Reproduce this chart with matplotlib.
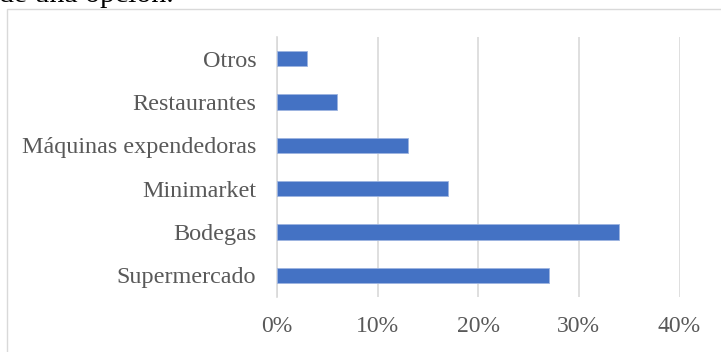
import matplotlib.pyplot as plt
from matplotlib.patches import Rectangle
from matplotlib.ticker import FuncFormatter

plt.rcParams["font.family"] = ["Liberation Serif", "DejaVu Serif"]

# Lugares de compra (de abajo hacia arriba)
lugares = ["Supermercado", "Bodegas", "Minimarket",
           "Máquinas expendedoras", "Restaurantes", "Otros"]
porcentajes = [27, 34, 17, 13, 6, 3]
ticks_x = [0, 10, 20, 30, 40]

W, H = 721, 352
fig = plt.figure(figsize=(W / 100, H / 100), dpi=100)

# borde del gráfico (se sale por la derecha y por abajo)
fig.patches.append(Rectangle((7 / W, -0.2), 1.2, 1.2 - 9 / H,
                             transform=fig.transFigure, fill=False,
                             edgecolor="#d9d9d9", linewidth=1.0))

# final del párrafo anterior, cortado arriba
fig.text(-0.002, 1 - 2.5 / H, "de una opción.", fontsize=21.5,
         color="black", va="baseline", ha="left")

ax = fig.add_axes([277 / W, 55 / H, 402.5 / W, 260 / H])
ax.barh(range(len(lugares)), porcentajes, height=0.36,
        color="#4472c4", edgecolor="#9db4e0", linewidth=0.6, zorder=3)

ax.set_xlim(0, 40)
ax.set_ylim(-0.5, len(lugares) - 0.5)
ax.set_xticks(ticks_x)
ax.xaxis.set_major_formatter(FuncFormatter(lambda v, p: f"{v:.0f}%"))
ax.set_yticks(range(len(lugares)))
ax.set_yticklabels(lugares)

ax.grid(axis="x", color="#d9d9d9", linewidth=1.2, zorder=0)
for s in ["top", "right", "bottom"]:
    ax.spines[s].set_visible(False)
ax.spines["left"].set_color("#d9d9d9")
ax.spines["left"].set_linewidth(1.2)

ax.tick_params(axis="both", length=0, colors="#595959")
ax.tick_params(axis="y", pad=15, labelsize=17.4)
ax.tick_params(axis="x", pad=14, labelsize=17)

fig.savefig("out.png", dpi=100)
